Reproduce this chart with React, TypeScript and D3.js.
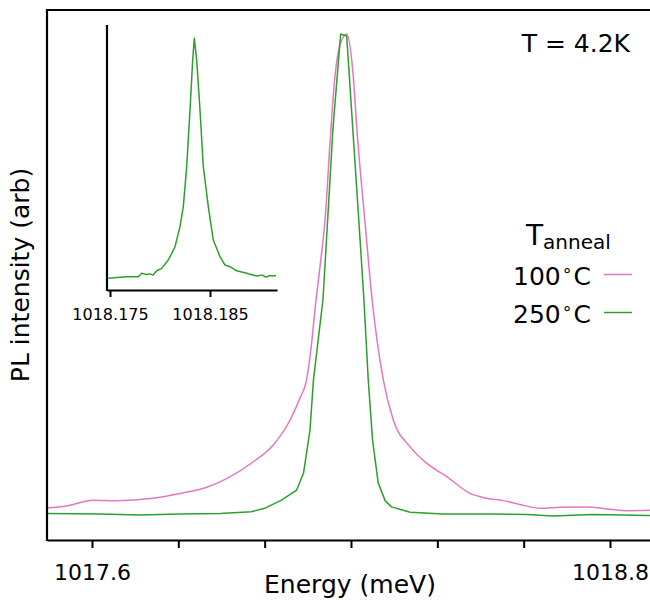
import React, { useEffect, useRef } from "react";
import * as d3 from "d3";

// main spectra (normalised PL intensity vs energy in meV)
const energy100 = [1017.496, 1017.541, 1017.603, 1017.657, 1017.741, 1017.804, 1017.866, 1017.912, 1017.974, 1018.02, 1018.059, 1018.082, 1018.097, 1018.107, 1018.119, 1018.130, 1018.14, 1018.151, 1018.163, 1018.175, 1018.19, 1018.204, 1018.215, 1018.232, 1018.249, 1018.275, 1018.298, 1018.337, 1018.375, 1018.422, 1018.476, 1018.514, 1018.553, 1018.591, 1018.638, 1018.684, 1018.746, 1018.8, 1018.839, 1018.9];
const intensity100 = [0.015, 0.019, 0.031, 0.03, 0.035, 0.045, 0.058, 0.076, 0.111, 0.146, 0.198, 0.244, 0.281, 0.344, 0.448, 0.531, 0.615, 0.77, 0.915, 0.98, 1.002, 0.927, 0.788, 0.615, 0.448, 0.281, 0.198, 0.142, 0.108, 0.08, 0.045, 0.035, 0.03, 0.022, 0.014, 0.016, 0.017, 0.012, 0.009, 0.01];

const energy250 = [1017.496, 1017.619, 1017.711, 1017.804, 1017.897, 1017.969, 1018.0, 1018.039, 1018.074, 1018.09, 1018.105, 1018.113, 1018.124, 1018.135, 1018.146, 1018.158, 1018.176, 1018.19, 1018.218, 1018.23, 1018.24, 1018.25, 1018.263, 1018.279, 1018.294, 1018.337, 1018.413, 1018.529, 1018.608, 1018.668, 1018.761, 1018.886, 1018.9];
const intensity250 = [0.003, 0.002, 0.0, 0.002, 0.003, 0.007, 0.014, 0.031, 0.052, 0.087, 0.177, 0.281, 0.365, 0.448, 0.615, 0.802, 1.002, 0.998, 0.615, 0.448, 0.281, 0.156, 0.067, 0.03, 0.017, 0.006, 0.002, 0.002, 0.001, -0.002, 0.001, -0.001, -0.001];

// inset: high resolution scan of the 250C line
const insetEnergy = [1018.17483, 1018.17667, 1018.17783, 1018.17817, 1018.1786, 1018.179, 1018.1793, 1018.17967, 1018.18017, 1018.18083, 1018.1815, 1018.182, 1018.18233, 1018.18267, 1018.183, 1018.18327, 1018.18343, 1018.18367, 1018.184, 1018.18433, 1018.18483, 1018.18533, 1018.186, 1018.1865, 1018.187, 1018.18767, 1018.18867, 1018.18967, 1018.1902, 1018.1906, 1018.191, 1018.19133, 1018.1916];
const insetIntensity = [-0.001, 0.005, 0.005, 0.02, 0.015, 0.017, 0.012, 0.03, 0.04, 0.075, 0.13, 0.214, 0.297, 0.464, 0.7, 0.908, 0.999, 0.908, 0.7, 0.464, 0.297, 0.158, 0.089, 0.054, 0.047, 0.03, 0.02, 0.008, 0.012, 0.004, 0.01, 0.008, 0.01];

const xTicks = [1017.6, 1017.8, 1018.0, 1018.2, 1018.4, 1018.6, 1018.8];
const xTickLabels = ["1017.6", "", "", "", "", "", "1018.8"];
const insetTicks = [1018.175, 1018.185];
const insetTickLabels = ["1018.175", "1018.185"];

const seriesNames = ["100", "250"];
const seriesColors = ["#e377c2", "#2ca02c"];

const FONT = "DejaVu Sans, sans-serif";

export default function App() {
  const svgRef = useRef<SVGSVGElement>(null);

  useEffect(() => {
    const width = 650;
    const svg = d3.select(svgRef.current);
    svg.selectAll("*").remove();

    // main axes
    const x = d3.scaleLinear().domain([1017.4958, 1018.8996]).range([47, 653]);
    const y = d3.scaleLinear().domain([-0.052, 1.052]).range([540, 10]);

    const series = [
      d3.zip(energy100, intensity100) as [number, number][],
      d3.zip(energy250, intensity250) as [number, number][],
    ];
    const curves = [d3.curveMonotoneX, d3.curveLinear];

    series.forEach((s, i) => {
      const line = d3
        .line<[number, number]>()
        .x(d => x(d[0]))
        .y(d => y(d[1]))
        .curve(curves[i]);
      svg.append("path")
        .datum(s)
        .attr("fill", "none")
        .attr("stroke", seriesColors[i])
        .attr("stroke-width", 1.5)
        .attr("stroke-linejoin", "round")
        .attr("d", line);
    });

    const xAxis = svg.append("g")
      .attr("transform", "translate(0,540)")
      .call(
        d3.axisBottom(x)
          .tickValues(xTicks)
          .tickFormat((d, i) => xTickLabels[i])
          .tickSize(8)
          .tickSizeOuter(0)
          .tickPadding(16)
      );
    xAxis.select(".domain").attr("stroke-width", 2.2);
    xAxis.selectAll(".tick line").attr("stroke-width", 2);
    xAxis.selectAll("text").attr("font-family", FONT).attr("font-size", 22).attr("fill", "#000");

    // left and top spines
    svg.append("line").attr("x1", 47).attr("x2", 47).attr("y1", 9).attr("y2", 541)
      .attr("stroke", "#000").attr("stroke-width", 2.2);
    svg.append("line").attr("x1", 46).attr("x2", width).attr("y1", 10).attr("y2", 10)
      .attr("stroke", "#000").attr("stroke-width", 2.2);

    // axis labels
    svg.append("text")
      .attr("x", 350).attr("y", 593)
      .attr("text-anchor", "middle")
      .attr("font-family", FONT).attr("font-size", 25)
      .text("Energy (meV)");
    svg.append("text")
      .attr("transform", "translate(29,275) rotate(-90)")
      .attr("text-anchor", "middle")
      .attr("font-family", FONT).attr("font-size", 25)
      .text("PL intensity (arb)");

    svg.append("text")
      .attr("x", 630).attr("y", 52)
      .attr("text-anchor", "end")
      .attr("font-family", FONT).attr("font-size", 25)
      .text("T = 4.2K");

    // legend
    const title = svg.append("text")
      .attr("x", 526).attr("y", 245)
      .attr("font-family", FONT).attr("font-size", 28);
    title.append("tspan").text("T");
    title.append("tspan").attr("font-size", 20).attr("dy", 4).text("anneal");

    seriesNames.forEach((name, i) => {
      const yy = 274.5 + i * 38;
      const t = svg.append("text")
        .attr("x", 513).attr("y", yy + 10.5)
        .attr("font-family", FONT).attr("font-size", 25);
      t.append("tspan").text(name);
      t.append("tspan").attr("font-size", 17).attr("dx", 1).attr("dy", -9).text("∘");
      t.append("tspan").attr("dx", 1).attr("dy", 9).text("C");
      svg.append("line")
        .attr("x1", 604).attr("x2", 632).attr("y1", yy).attr("y2", yy)
        .attr("stroke", seriesColors[i]).attr("stroke-width", 1.5);
    });

    // inset
    const xi = d3.scaleLinear().domain([1018.1747, 1018.1917]).range([107, 277]);
    const yi = d3.scaleLinear().domain([-0.05, 1.054]).range([290, 25]);

    svg.append("path")
      .datum(d3.zip(insetEnergy, insetIntensity) as [number, number][])
      .attr("fill", "none")
      .attr("stroke", seriesColors[1])
      .attr("stroke-width", 1.5)
      .attr("stroke-linejoin", "round")
      .attr("d", d3.line<[number, number]>().x(d => xi(d[0])).y(d => yi(d[1])));

    const insetAxis = svg.append("g")
      .attr("transform", "translate(0,290)")
      .call(
        d3.axisBottom(xi)
          .tickValues(insetTicks)
          .tickFormat((d, i) => insetTickLabels[i])
          .tickSize(7)
          .tickSizeOuter(0)
          .tickPadding(12)
      );
    insetAxis.select(".domain").attr("stroke-width", 2.2);
    insetAxis.selectAll(".tick line").attr("stroke-width", 2);
    insetAxis.selectAll("text").attr("font-family", FONT).attr("font-size", 16).attr("fill", "#000");

    svg.append("line").attr("x1", 107).attr("x2", 107).attr("y1", 25).attr("y2", 291)
      .attr("stroke", "#000").attr("stroke-width", 2.2);
  }, []);

  return (
    <div style={{ position: "absolute", left: 0, top: 0 }}>
      <svg ref={svgRef} width={650} height={600} style={{ display: "block", background: "#fff" }}></svg>
    </div>
  );
}
